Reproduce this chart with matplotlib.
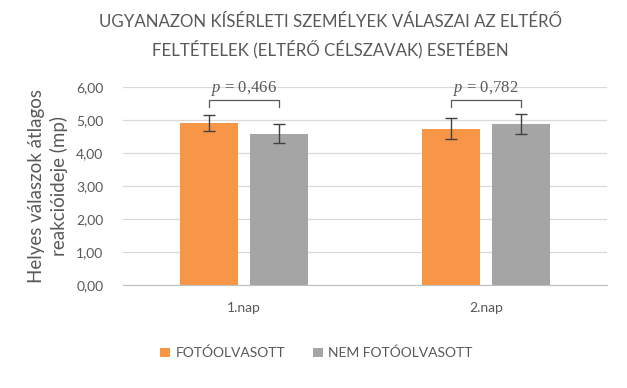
import numpy as np
import matplotlib.pyplot as plt

categories = ["1.nap", "2.nap"]
series = ["FOTÓOLVASOTT", "NEM FOTÓOLVASOTT"]
foto = [4.91, 4.73]
nem_foto = [4.58, 4.88]
foto_err = [0.23, 0.32]
nem_foto_err = [0.29, 0.30]
p_values = ["0,466", "0,782"]
yticks = [0, 1, 2, 3, 4, 5, 6]

orange = "#F79646"
gray = "#A5A5A5"
text_col = "#595959"

plt.rcParams["font.family"] = ["Lato", "DejaVu Sans"]
plt.rcParams["mathtext.fontset"] = "custom"
plt.rcParams["mathtext.it"] = "Liberation Serif:italic"
plt.rcParams["mathtext.rm"] = "Liberation Serif"

fig = plt.figure(figsize=(6.27, 3.88), dpi=100)
ax = fig.add_axes([0.196, 0.2655, 0.772, 0.5103])

x = np.arange(len(categories))
w = 0.24
off = 0.145
ekw = dict(ecolor="#404040", elinewidth=1, capsize=4, capthick=1)
ax.bar(x - off, foto, w, color=orange, yerr=foto_err, error_kw=ekw, label=series[0], zorder=3)
ax.bar(x + off, nem_foto, w, color=gray, yerr=nem_foto_err, error_kw=ekw, label=series[1], zorder=3)

# significance brackets
for i, p in enumerate(p_values):
    x0, x1 = i - off, i + off
    ax.plot([x0, x0, x1, x1], [5.38, 5.6, 5.6, 5.38], color="#595959", lw=0.9, zorder=4)
    ax.text(i, 5.68, r"$p$ = " + p, ha="center", va="bottom", fontsize=12,
            family="Liberation Serif", color="#595959", zorder=4)

ax.set_xlim(-0.5, 1.5)
ax.set_ylim(0, 6)
ax.set_yticks(yticks)
ax.set_yticklabels([f"{v:.2f}".replace(".", ",") for v in yticks])
ax.set_xticks(x)
ax.set_xticklabels(categories)
ax.tick_params(length=0, labelsize=10, colors=text_col)
ax.tick_params(axis="x", pad=12)
ax.tick_params(axis="y", pad=14)
ax.grid(axis="y", color="#D9D9D9", lw=0.9, zorder=0)
for s in ["top", "right", "left"]:
    ax.spines[s].set_visible(False)
ax.spines["bottom"].set_color("#BFBFBF")

ax.set_ylabel("Helyes válaszok átlagos\nreakcióideje (mp)", fontsize=13.5, color=text_col,
              labelpad=6, linespacing=1.3)

fig.text(0.527, 0.907, "UGYANAZON KÍSÉRLETI SZEMÉLYEK VÁLASZAI AZ ELTÉRŐ\nFELTÉTELEK (ELTÉRŐ CÉLSZAVAK) ESETÉBEN",
         ha="center", va="center", fontsize=12.2, color=text_col, linespacing=1.6)

fig.legend(loc="center", bbox_to_anchor=(0.505, 0.09), ncol=2, frameon=False, fontsize=10,
           handlelength=0.7, handleheight=0.7, handletextpad=0.4, columnspacing=2.0,
           labelcolor=text_col)

fig.savefig("out.png", dpi=100)
